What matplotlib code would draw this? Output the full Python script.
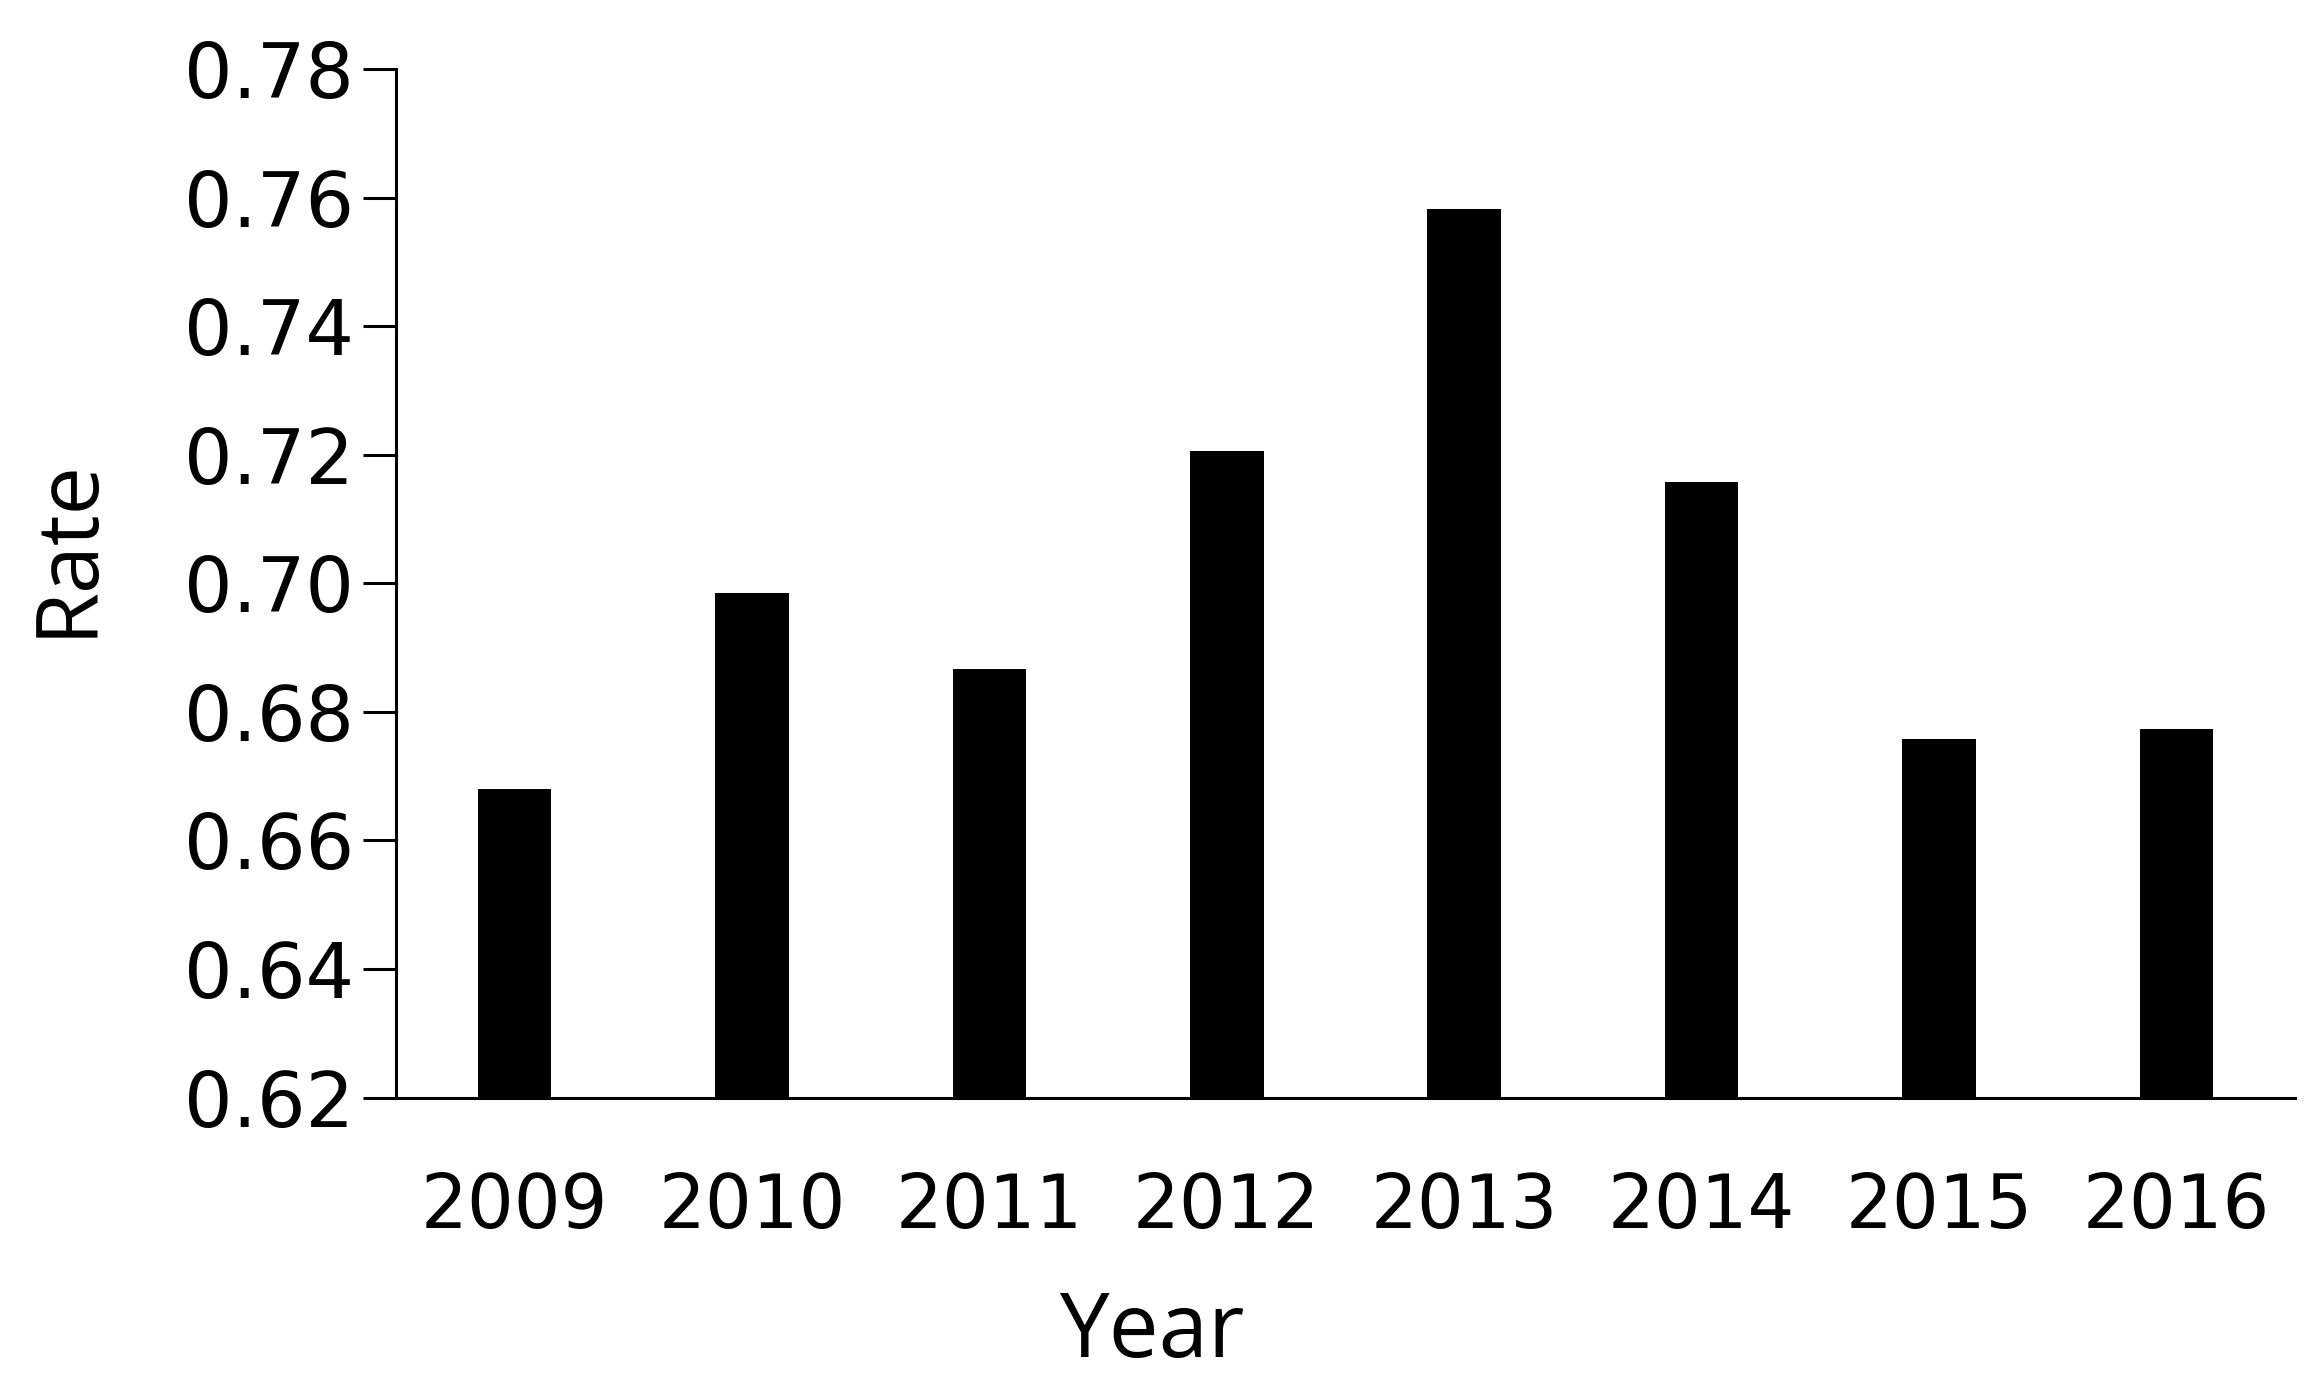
import matplotlib
matplotlib.use("Agg")
import matplotlib.pyplot as plt
import numpy as np

# =====================================
# Data
# =====================================

years = ["2009", "2010", "2011", "2012", "2013", "2014", "2015", "2016"]
rates = [0.668, 0.6985, 0.6866, 0.7206, 0.7582, 0.7157, 0.6758, 0.6774]
y_ticks = [0.62, 0.64, 0.66, 0.68, 0.70, 0.72, 0.74, 0.76, 0.78]

# =====================================
# Plot
# =====================================

fig = plt.figure(figsize=(23.17, 13.86), dpi=100)
ax = fig.add_axes([0.1709, 0.2081, 0.8196, 0.7421])

x = np.arange(len(years))
ax.bar(x, rates, width=0.31, color="black", zorder=2)

ax.set_xlim(-0.5, len(years) - 0.5)
ax.set_ylim(0.62, 0.78)
ax.set_yticks(y_ticks)
ax.set_yticklabels([f"{v:.2f}" for v in y_ticks], fontsize=55, family="DejaVu Sans")
ax.set_xticks(x)
ax.set_xticklabels(years, fontsize=53, family="DejaVu Sans")

ax.tick_params(axis="y", length=24, width=2.2, pad=6, color="black")
ax.tick_params(axis="x", length=0, pad=53)

for side in ["top", "right"]:
    ax.spines[side].set_visible(False)
for side in ["left", "bottom"]:
    ax.spines[side].set_linewidth(2.2)

fig.text(0.497, 0.021, "Year", fontsize=64, family="Open Sans",
         ha="center", va="baseline")
fig.text(0.039, 0.605, "Rate", fontsize=62, family="Open Sans",
         rotation=90, rotation_mode="anchor", ha="center", va="baseline")

fig.savefig("out.png", dpi=100)
